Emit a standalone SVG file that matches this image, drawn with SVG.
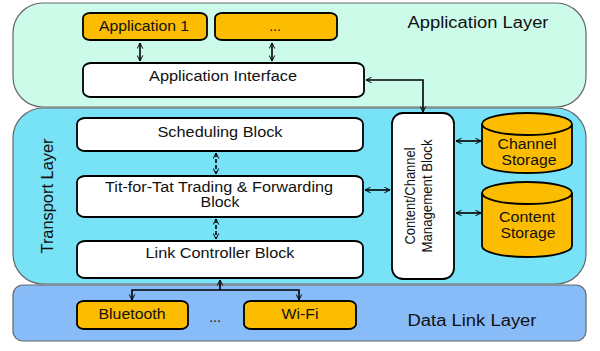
<svg xmlns="http://www.w3.org/2000/svg" width="600" height="351" viewBox="0 0 600 351">
<defs>
<marker id="ah" viewBox="0 0 10 10" refX="9" refY="5" markerWidth="7" markerHeight="7" orient="auto-start-reverse" markerUnits="userSpaceOnUse">
<path d="M1,1 L9,5 L1,9" fill="none" stroke="#000" stroke-width="1.4"/>
</marker>
</defs>
<style>
.layer{stroke:#666;stroke-width:1.2}
.box{fill:#fff;stroke:#000;stroke-width:1.8}
.obox{fill:#fcbc00;stroke:#000;stroke-width:1.8}
.t{font-family:"Liberation Sans",Arial,sans-serif;font-size:14px;fill:#111;text-anchor:middle}
.lt{font-family:"Liberation Sans",Arial,sans-serif;font-size:16px;fill:#111;text-anchor:middle}
.c{fill:none;stroke:#000;stroke-width:1.6}
.d{fill:none;stroke:#000;stroke-width:1.6;stroke-dasharray:4,2}
</style>
<g id="application-layer">
<rect class="layer" x="13" y="3" width="573" height="104" rx="30" fill="#ccfce9"/>
<text class="lt" x="478" y="28" textLength="141" lengthAdjust="spacingAndGlyphs">Application Layer</text>
</g>
<g id="transport-layer">
<rect class="layer" x="13" y="108" width="573" height="176" rx="30" fill="#78e2f6"/>
<text class="lt" transform="translate(53,196) rotate(-90)" font-size="17" textLength="115" lengthAdjust="spacingAndGlyphs">Transport Layer</text>
</g>
<g id="data-link-layer">
<rect class="layer" x="13" y="285" width="573" height="56" rx="10" fill="#88bcf8"/>
<text class="lt" x="472" y="326" textLength="129" lengthAdjust="spacingAndGlyphs">Data Link Layer</text>
</g>
<g id="app1">
<rect class="obox" x="83" y="13" width="124" height="27" rx="7" ry="5"/>
<text class="t" x="144" y="31" textLength="90" lengthAdjust="spacingAndGlyphs">Application 1</text>
</g>
<g id="app-more">
<rect class="obox" x="215" y="13" width="122" height="27" rx="7" ry="5"/>
<text class="t" x="275" y="31">...</text>
</g>
<g id="app-interface">
<rect class="box" x="83" y="63" width="281" height="34" rx="8" ry="6"/>
<text class="t" x="223" y="81" textLength="148" lengthAdjust="spacingAndGlyphs">Application Interface</text>
</g>
<g id="scheduling">
<rect class="box" x="77" y="118" width="286" height="33" rx="8" ry="6"/>
<text class="t" x="220" y="137" textLength="125" lengthAdjust="spacingAndGlyphs">Scheduling Block</text>
</g>
<g id="tft">
<rect class="box" x="77" y="176" width="286" height="41" rx="8" ry="6"/>
<text class="t" x="219" y="192" textLength="228" lengthAdjust="spacingAndGlyphs">Tit-for-Tat Trading &amp; Forwarding</text>
<text class="t" x="220" y="207" textLength="39" lengthAdjust="spacingAndGlyphs">Block</text>
</g>
<g id="link-controller">
<rect class="box" x="77" y="241" width="286" height="37" rx="8" ry="6"/>
<text class="t" x="220" y="258" textLength="149" lengthAdjust="spacingAndGlyphs">Link Controller Block</text>
</g>
<g id="content-channel">
<rect class="box" x="392" y="113" width="62" height="166" rx="11"/>
<text class="t" transform="translate(415,196) rotate(-90)" textLength="97" lengthAdjust="spacingAndGlyphs">Content/Channel</text>
<text class="t" transform="translate(432,196) rotate(-90)" textLength="113" lengthAdjust="spacingAndGlyphs">Management  Block</text>
</g>
<g id="channel-storage">
<path class="obox" d="M482,124 L482,163 A45,10 0 0 0 572,163 L572,124"/>
<ellipse class="obox" cx="527" cy="124" rx="45" ry="11"/>
<text class="t" x="527" y="149" textLength="59" lengthAdjust="spacingAndGlyphs">Channel</text>
<text class="t" x="529" y="165" textLength="55" lengthAdjust="spacingAndGlyphs">Storage</text>
</g>
<g id="content-storage">
<path class="obox" d="M482,193 L482,246 A45,11 0 0 0 572,246 L572,193"/>
<ellipse class="obox" cx="527" cy="193" rx="45" ry="11"/>
<text class="t" x="527" y="222" textLength="56" lengthAdjust="spacingAndGlyphs">Content</text>
<text class="t" x="528" y="238" textLength="55" lengthAdjust="spacingAndGlyphs">Storage</text>
</g>
<g id="bluetooth">
<rect class="obox" x="77" y="301" width="111" height="28" rx="7" ry="5"/>
<text class="t" x="132" y="319" textLength="67" lengthAdjust="spacingAndGlyphs">Bluetooth</text>
</g>
<text class="t" x="215" y="322">...</text>
<g id="wifi">
<rect class="obox" x="244" y="301" width="112" height="28" rx="7" ry="5"/>
<text class="t" x="300" y="319" textLength="37" lengthAdjust="spacingAndGlyphs">Wi-Fi</text>
</g>
<g id="connectors">
<line class="c" x1="140" y1="43" x2="140" y2="61" marker-start="url(#ah)" marker-end="url(#ah)"/>
<line class="c" x1="272" y1="43" x2="272" y2="61" marker-start="url(#ah)" marker-end="url(#ah)"/>
<polyline class="c" points="366,80 423,80 423,112" marker-start="url(#ah)" marker-end="url(#ah)"/>
<line class="d" x1="216" y1="153" x2="216" y2="174" marker-start="url(#ah)" marker-end="url(#ah)"/>
<line class="d" x1="216" y1="219" x2="216" y2="239" marker-start="url(#ah)" marker-end="url(#ah)"/>
<line class="c" x1="365" y1="190" x2="390" y2="190" marker-start="url(#ah)" marker-end="url(#ah)"/>
<line class="c" x1="456" y1="141" x2="481" y2="141" marker-start="url(#ah)" marker-end="url(#ah)"/>
<line class="c" x1="456" y1="213" x2="481" y2="213" marker-start="url(#ah)" marker-end="url(#ah)"/>
<line class="c" x1="220" y1="290" x2="220" y2="280" marker-end="url(#ah)"/>
<polyline class="c" points="132,300 132,290 299,290 299,300" marker-start="url(#ah)" marker-end="url(#ah)"/>
</g>
</svg>
